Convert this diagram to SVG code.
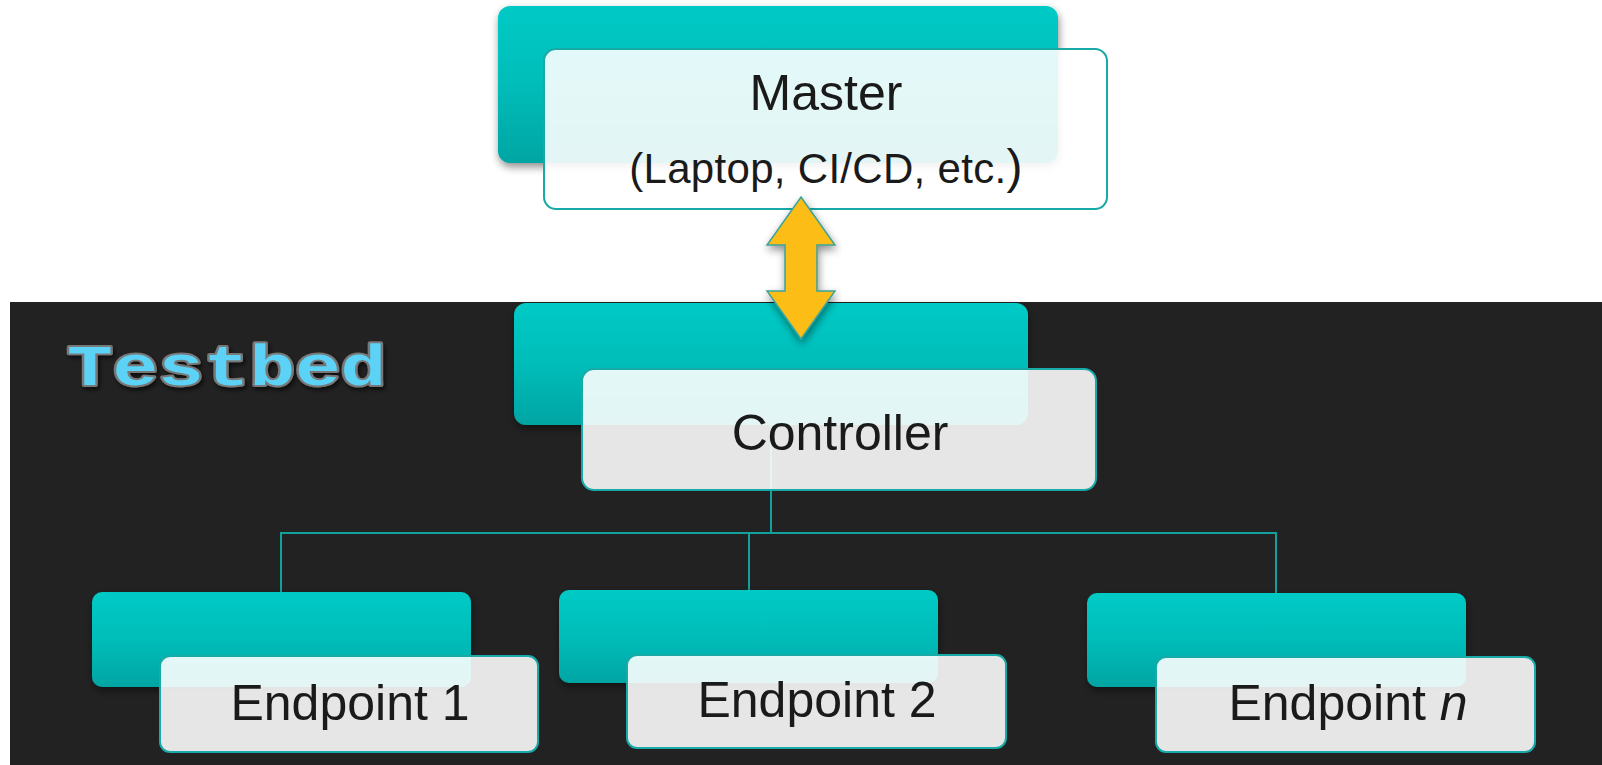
<svg xmlns="http://www.w3.org/2000/svg" width="1602" height="765" viewBox="0 0 1602 765">
<defs>
<linearGradient id="teal" x1="0" y1="0" x2="0" y2="1">
<stop offset="0" stop-color="#00cac6"/>
<stop offset="0.5" stop-color="#00bdb9"/>
<stop offset="1" stop-color="#00a5a3"/>
</linearGradient>
<filter id="sh" x="-10%" y="-10%" width="120%" height="130%">
<feGaussianBlur in="SourceAlpha" stdDeviation="4"/>
<feOffset dx="1" dy="4" result="b"/>
<feComponentTransfer><feFuncA type="linear" slope="0.45"/></feComponentTransfer>
<feMerge><feMergeNode/><feMergeNode in="SourceGraphic"/></feMerge>
</filter>
<filter id="tsh" x="-10%" y="-20%" width="120%" height="140%">
<feGaussianBlur in="SourceAlpha" stdDeviation="2"/>
<feOffset dx="2" dy="3"/>
<feComponentTransfer><feFuncA type="linear" slope="0.6"/></feComponentTransfer>
<feMerge><feMergeNode/><feMergeNode in="SourceGraphic"/></feMerge>
</filter>
<style>
.back{fill:url(#teal);filter:url(#sh)}
.front{fill:#ffffff;fill-opacity:0.89;stroke:#17aaa7;stroke-width:2}
.lbl{font-family:"Liberation Sans",Arial,sans-serif;font-size:50px;fill:#1a1a1a;text-anchor:middle}
.sub{font-size:42px;letter-spacing:0.3px}
.conn{fill:none;stroke:#14a09d;stroke-width:2}
</style>
</defs>
<rect x="0" y="0" width="1602" height="765" fill="#ffffff"/>
<rect x="10" y="302" width="1592" height="463" fill="#222222"/>
<g id="testbed-label" filter="url(#tsh)">
<text transform="scale(1,0.76)" x="67" y="507" font-family="'Liberation Mono','Courier New',monospace" font-size="76" font-weight="bold" fill="#5bd2f7" stroke="#787878" stroke-width="5" stroke-linejoin="round" paint-order="stroke">Testbed</text>
</g>
<g id="connectors">
<path class="conn" d="M771 425 V533 H281 V592"/>
<path class="conn" d="M771 533 H1276 V593"/>
<path class="conn" d="M749 533 V590"/>
</g>
<g id="master">
<rect class="back" x="498" y="6" width="560" height="157" rx="12"/>
<rect class="front" x="544" y="49" width="563" height="160" rx="12"/>
<text class="lbl" x="826" y="110">Master</text>
<text class="lbl sub" x="826" y="183">(Laptop, CI/CD, etc.<tspan style="font-size:48px">)</tspan></text>
</g>
<g id="controller">
<rect class="back" x="514" y="303" width="514" height="122" rx="12"/>
<rect class="front" x="582" y="369" width="514" height="121" rx="12"/>
<text class="lbl" x="840" y="450">Controller</text>
</g>
<g id="endpoint1">
<rect class="back" x="92" y="592" width="379" height="95" rx="10"/>
<rect class="front" x="160" y="656" width="378" height="96" rx="10"/>
<text class="lbl" x="350" y="720">Endpoint 1</text>
</g>
<g id="endpoint2">
<rect class="back" x="559" y="590" width="379" height="93" rx="10"/>
<rect class="front" x="627" y="655" width="379" height="93" rx="10"/>
<text class="lbl" x="817" y="717">Endpoint 2</text>
</g>
<g id="endpointn">
<rect class="back" x="1087" y="593" width="379" height="94" rx="10"/>
<rect class="front" x="1156" y="657" width="379" height="95" rx="10"/>
<text class="lbl" x="1348" y="720">Endpoint <tspan font-style="italic">n</tspan></text>
</g>
<g id="arrow">
<polygon points="801,197 835,245 817,245 817,291 835,291 801,339 767,291 785,291 785,245 767,245" fill="#fcbd16" stroke="#3aa39a" stroke-width="1.5" filter="url(#sh)"/>
</g>
</svg>
